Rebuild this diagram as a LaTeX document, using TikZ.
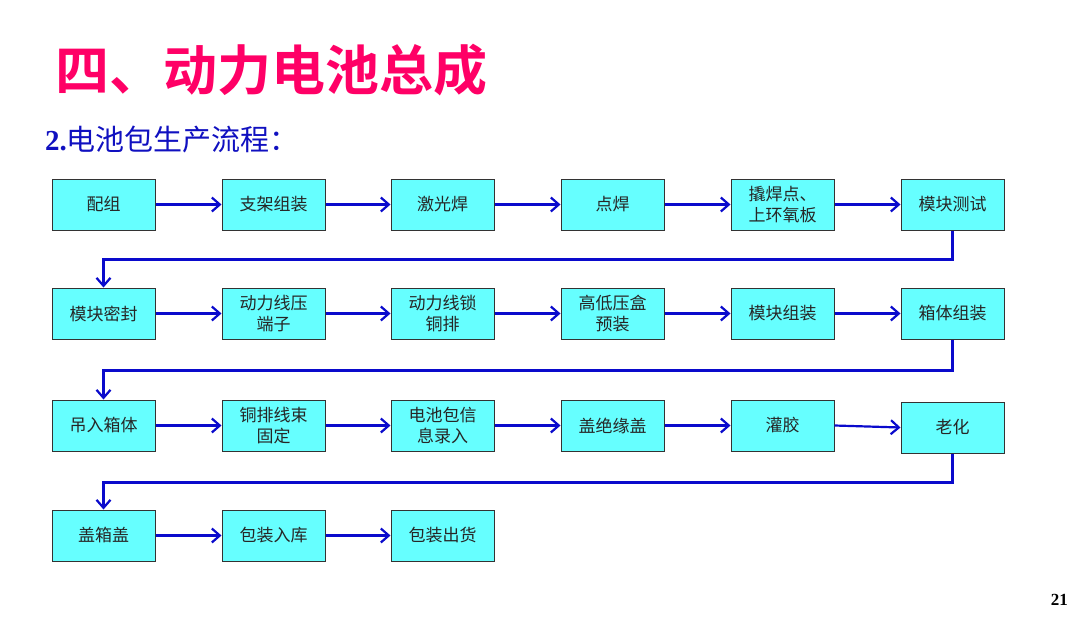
\documentclass[tikz,border=0pt]{standalone}
\usepackage{fontspec}
\newfontfamily\cjk{Noto Sans CJK SC}
\newfontfamily\cjkb{Noto Sans CJK SC Bold}
\setmainfont{Liberation Serif}
\usetikzlibrary{arrows.meta}
\definecolor{boxfill}{HTML}{66FFFF}
\definecolor{arrowblue}{HTML}{0A0ACC}
\definecolor{titlepink}{HTML}{FF0066}
\definecolor{subblue}{HTML}{1010C0}
\tikzset{
  stepbox/.style={draw=black!80, line width=1pt, fill=boxfill, minimum width=103pt, minimum height=51pt, inner sep=0pt, align=center, font=\cjk\fontsize{17}{21}\selectfont, text=black!85},
  flow/.style={draw=arrowblue, line width=2.2pt, -{Straight Barb[length=8pt,width=14pt,line width=2.2pt]}}
}
\begin{document}
\begin{tikzpicture}[x=1pt,y=-1pt]
\useasboundingbox (0,0) rectangle (1080,621);
\node[anchor=west, text=titlepink, font=\cjkb\fontsize{54}{60}\selectfont, inner sep=0pt] (title) at (55,70) {四、动力电池总成};
\node[anchor=west, text=subblue, inner sep=0pt] (sub) at (45,140) {{\bfseries\fontsize{29}{32}\selectfont 2.}{\cjk\fontsize{29}{32}\selectfont 电池包生产流程：}};
\node[anchor=east, font=\bfseries\fontsize{17}{20}\selectfont, inner sep=0pt] (page) at (1068,600) {21};
% row 1
\node[stepbox] (a1) at (103.5,204.5) {配组};
\node[stepbox] (a2) at (273.5,204.5) {支架组装};
\node[stepbox] (a3) at (442.5,204.5) {激光焊};
\node[stepbox] (a4) at (612.5,204.5) {点焊};
\node[stepbox] (a5) at (782.5,204.5) {撬焊点、\\上环氧板};
\node[stepbox] (a6) at (952.5,204.5) {模块测试};
% row 2
\node[stepbox] (b1) at (103.5,313.5) {模块密封};
\node[stepbox] (b2) at (273.5,313.5) {动力线压\\端子};
\node[stepbox] (b3) at (442.5,313.5) {动力线锁\\铜排};
\node[stepbox] (b4) at (612.5,313.5) {高低压盒\\预装};
\node[stepbox] (b5) at (782.5,313.5) {模块组装};
\node[stepbox] (b6) at (952.5,313.5) {箱体组装};
% row 3
\node[stepbox] (c1) at (103.5,425.5) {吊入箱体};
\node[stepbox] (c2) at (273.5,425.5) {铜排线束\\固定};
\node[stepbox] (c3) at (442.5,425.5) {电池包信\\息录入};
\node[stepbox] (c4) at (612.5,425.5) {盖绝缘盖};
\node[stepbox] (c5) at (782.5,425.5) {灌胶};
\node[stepbox] (c6) at (952.5,427.5) {老化};
% row 4
\node[stepbox] (d1) at (103.5,535.5) {盖箱盖};
\node[stepbox] (d2) at (273.5,535.5) {包装入库};
\node[stepbox] (d3) at (442.5,535.5) {包装出货};
% connectors
\draw[flow] (a1) -- (a2);
\draw[flow] (a2) -- (a3);
\draw[flow] (a3) -- (a4);
\draw[flow] (a4) -- (a5);
\draw[flow] (a5) -- (a6);
\draw[flow] (a6.south) -- ++(0,29) -| (b1.north);
\draw[flow] (b1) -- (b2);
\draw[flow] (b2) -- (b3);
\draw[flow] (b3) -- (b4);
\draw[flow] (b4) -- (b5);
\draw[flow] (b5) -- (b6);
\draw[flow] (b6.south) -- ++(0,31) -| (c1.north);
\draw[flow] (c1) -- (c2);
\draw[flow] (c2) -- (c3);
\draw[flow] (c3) -- (c4);
\draw[flow] (c4) -- (c5);
\draw[flow] (c5.east) -- (c6.west);
\draw[flow] (c6.south) -- ++(0,29) -| (d1.north);
\draw[flow] (d1) -- (d2);
\draw[flow] (d2) -- (d3);
\end{tikzpicture}
\end{document}
